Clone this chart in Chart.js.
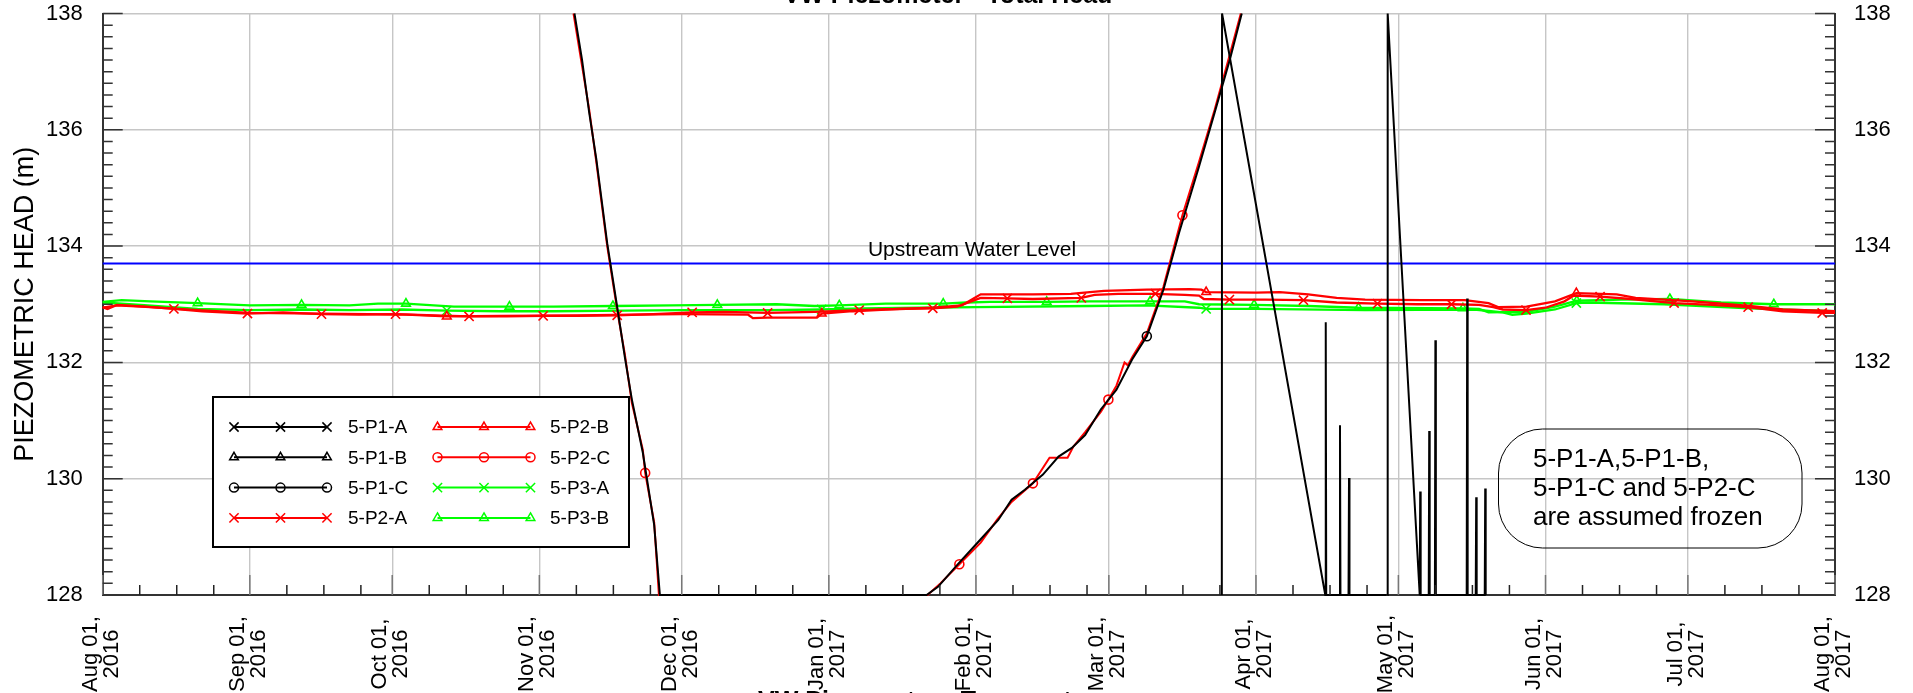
<!DOCTYPE html>
<html>
<head>
<meta charset="utf-8">
<title>VW Piezometer - Total Head</title>
<script src="https://cdn.jsdelivr.net/npm/chart.js@4.4.1/dist/chart.umd.min.js"></script>
<style>
  html, body { margin: 0; padding: 0; background: #fff; }
  #wrap { position: relative; width: 1913px; height: 693px; overflow: hidden; }
  canvas { display: block; }
</style>
</head>
<body>
<div id="wrap"><canvas id="chart" width="1913" height="693"></canvas></div>
<script>
/* VW piezometers 5-P1 / 5-P2 / 5-P3 — total head, Aug 2016 to Aug 2017 */

// x values are days counted from Aug 01, 2016
const MONTH_DAYS   = [0, 31, 61, 92, 122, 153, 184, 212, 243, 273, 304, 334, 365];
const MONTH_LABELS = ['Aug 01,', 'Sep 01,', 'Oct 01,', 'Nov 01,', 'Dec 01,', 'Jan 01,', 'Feb 01,',
                      'Mar 01,', 'Apr 01,', 'May 01,', 'Jun 01,', 'Jul 01,', 'Aug 01,'];
const YEAR_LABELS  = ['2016', '2016', '2016', '2016', '2016', '2017', '2017',
                      '2017', '2017', '2017', '2017', '2017', '2017'];

const HEAD_MIN = 128;
const HEAD_MAX = 138;
const UPSTREAM = [[0, 133.7], [365, 133.7]];

/* frozen sensors — values shown clipped at the 128 / 138 frame */
const P1A = [[235.8,128],[235.85,138],[257.6,128],[257.7,132.69],[257.8,128],[260.6,128],[260.7,130.92],
  [260.8,128],[262.5,128],[262.6,130.01],[262.7,128],[270.5,128]];
const P1A_MARKS = [];

const P1B = [[270.7,128],[270.75,138],[277.5,128],[277.6,129.78],[277.7,128],[279.4,128],[279.5,130.82],
  [279.6,128],[280.7,128],[280.8,132.38],[280.9,128],[287.4,128],[287.5,133.1],[287.6,128],[289.3,128],
  [289.4,129.68],[289.5,128],[291.2,128],[291.3,129.83],[291.4,128]];
const P1B_MARKS = [];

const P1C = [[99.4,138],[101,137.2],[102.5,136.3],[104,135.5],[106.3,134.05],[108.6,132.85],[110,132.1],
  [111.5,131.36],[113.8,130.45],[116.2,129.2],[117.4,128],[173.6,128],[176,128.14],[180.2,128.53],
  [184.9,128.95],[188.7,129.29],[191.5,129.64],[194.3,129.81],[198.1,130.07],[201.4,130.38],[204.2,130.53],
  [207,130.75],[210.3,131.19],[213.6,131.53],[216.9,132.05],[220,132.45],[223.5,133.25],[226.8,134.23],
  [231,135.37],[234.3,136.3],[237.5,137.21],[240,138]];
const P1C_MARKS = [220];

const P2C = [[99.2,138],[101,137.1],[102.5,136.35],[104,135.45],[106.3,134.0],[108.6,132.8],[110,132.15],
  [111.5,131.3],[113.8,130.5],[114.3,130.1],[116.2,129.25],[117.2,128],[173.8,128],[176.5,128.2],
  [180.5,128.53],[185,128.9],[188.5,129.3],[191.5,129.6],[196,129.92],[199.5,130.36],[203.3,130.36],
  [204.5,130.55],[207,130.8],[210.3,131.15],[211.9,131.36],[213.6,131.6],[215.3,132.0],[216,131.95],
  [217,132.1],[220,132.5],[223.5,133.3],[227.5,134.53],[231,135.45],[234.3,136.35],[237.5,137.3],[239.8,138]];
const P2C_MARKS = [114.3, 180.5, 196, 211.9, 227.5];

/* working sensors */
const P2A = [[0,132.95],[1,132.92],[3,132.99],[9,132.96],[15,132.92],[21,132.88],[30.5,132.84],[38,132.86],
  [46.1,132.83],[54,132.82],[61.7,132.83],[70,132.81],[77.2,132.79],[85,132.79],[92.8,132.80],[100,132.80],
  [108.4,132.81],[116,132.83],[124.2,132.86],[131,132.87],[140.1,132.85],[150,132.87],[159.4,132.90],
  [168,132.92],[174.9,132.93],[180,132.96],[183,133.05],[185,133.11],[190.6,133.10],[196,133.09],
  [206.2,133.11],[209,133.16],[214,133.18],[221.8,133.18],[228,133.16],[231,133.15],[232,133.09],
  [237.4,133.08],[245,133.08],[253,133.07],[260,133.03],[268.6,133.01],[277,133.00],[284.2,133.00],
  [290,132.99],[293,132.95],[295,132.91],[299.9,132.90],[304,132.94],[308,133.05],[310,133.15],
  [315.5,133.13],[322,133.09],[331.1,133.02],[339,132.99],[346.7,132.95],[354,132.88],[362.3,132.85],[365,132.85]];
const P2A_MARKS = [15, 30.5, 46.1, 61.7, 77.2, 92.8, 108.4, 124.2, 140.1, 159.4, 174.9, 190.6, 206.2,
  221.8, 237.4, 253, 268.6, 284.2, 299.9, 315.5, 331.1, 346.7, 362.3];

const P2B = [[0,132.94],[3,132.98],[10,132.95],[20,132.90],[31,132.85],[46,132.84],[56,132.83],[64,132.82],
  [72.5,132.79],[84,132.80],[100,132.81],[112,132.82],[122,132.83],[136,132.82],[137,132.76],[140,132.77],
  [145,132.77],[150.5,132.77],[151.5,132.84],[158,132.88],[165,132.91],[175,132.94],[181,132.98],
  [183.5,133.10],[185,133.17],[196,133.17],[204,133.18],[208,133.21],[211,133.23],[220,133.25],[229,133.26],
  [231.5,133.25],[232.5,133.21],[243,133.20],[248,133.21],[254,133.17],[260,133.11],[266,133.08],
  [278,133.07],[287,133.07],[292,133.02],[294,132.95],[300,132.96],[306,133.05],[310.5,133.19],
  [319,133.17],[323,133.11],[335,133.05],[347,132.97],[354,132.91],[365,132.88]];
const P2B_MARKS = [72.5, 151.5, 232.5, 310.5];

const P3A = [[0,133.03],[8,132.99],[20,132.92],[31,132.90],[42,132.91],[52,132.90],[63,132.91],[72.5,132.89],
  [84,132.88],[95,132.88],[110,132.89],[122,132.90],[140,132.90],[151.5,132.91],[160,132.93],[172,132.94],
  [184,132.95],[208,132.97],[220,132.98],[231,132.94],[232.5,132.92],[243,132.92],[266,132.90],[289,132.91],
  [295,132.86],[297,132.82],[300,132.84],[306,132.91],[310.5,133.02],[313,133.03],[329,133.00],[347,132.93],
  [365,132.88]];
const P3A_MARKS = [72.5, 151.5, 232.5, 310.5];

const P3B = [[0,133.04],[4,133.07],[10,133.05],[20,133.02],[31,132.98],[41.9,132.99],[52,132.98],[58,133.01],
  [63.9,133.01],[74,132.96],[85.7,132.96],[95,132.96],[107.5,132.97],[120,132.98],[129.5,132.99],[142,133.00],
  [150,132.97],[155.2,132.98],[165,133.01],[177.1,133.01],[182,133.03],[187,133.04],[198.9,133.04],
  [208,133.05],[220.7,133.05],[228,133.05],[231,133.00],[242.6,132.99],[254,132.97],[264.6,132.94],
  [286.6,132.93],[290,132.92],[292,132.86],[300,132.87],[306,132.96],[310.6,133.06],[320,133.08],
  [330.2,133.09],[341,133.03],[352.1,133.00],[365,133.00]];
const P3B_MARKS = [20, 41.9, 63.9, 85.7, 107.5, 129.5, 155.2, 177.1, 198.9, 220.7, 242.6, 264.6, 286.6,
  310.6, 330.2, 352.1];

const NOTE_LINES = ['5-P1-A,5-P1-B,', '5-P1-C and 5-P2-C', 'are assumed frozen'];

/* ── styling ──────────────────────────────────────────────────── */

const FONT = "'Liberation Sans', Arial, Helvetica, sans-serif";
const BLACK = '#000000', RED = '#ff0000', GREEN = '#00ff00', BLUE = '#0000ff';
const MARK_R = { crossRot: 6.5, triangle: 5, circle: 4.5 };

// drawn top-most first (Chart.js paints dataset 0 last)
const SERIES = [
  { label: '5-P1-A', color: BLACK, style: 'crossRot', pts: P1A, marks: P1A_MARKS, width: 2 },
  { label: '5-P1-B', color: BLACK, style: 'triangle', pts: P1B, marks: P1B_MARKS, width: 2 },
  { label: '5-P1-C', color: BLACK, style: 'circle',   pts: P1C, marks: P1C_MARKS, width: 2 },
  { label: '5-P2-C', color: RED,   style: 'circle',   pts: P2C, marks: P2C_MARKS, width: 2 },
  { label: '5-P2-A', color: RED,   style: 'crossRot', pts: P2A, marks: P2A_MARKS, width: 2.3 },
  { label: '5-P2-B', color: RED,   style: 'triangle', pts: P2B, marks: P2B_MARKS, width: 2.3 },
  { label: '5-P3-A', color: GREEN, style: 'crossRot', pts: P3A, marks: P3A_MARKS, width: 2.3 },
  { label: '5-P3-B', color: GREEN, style: 'triangle', pts: P3B, marks: P3B_MARKS, width: 2.3 },
];

// legend order as printed in the box (two columns of four)
const LEGEND_ORDER = ['5-P1-A', '5-P1-B', '5-P1-C', '5-P2-A', '5-P2-B', '5-P2-C', '5-P3-A', '5-P3-B'];

function toPoints(pairs) {
  return pairs.map(p => ({ x: p[0], y: p[1] }));
}

/* ── helpers ──────────────────────────────────────────────────── */

function drawMarker(ctx, style, x, y, r) {
  ctx.beginPath();
  if (style === 'crossRot') {
    const d = r * Math.SQRT1_2;
    ctx.moveTo(x - d, y - d); ctx.lineTo(x + d, y + d);
    ctx.moveTo(x - d, y + d); ctx.lineTo(x + d, y - d);
  } else if (style === 'triangle') {
    for (let i = 0; i < 3; i++) {
      const a = i * 2 * Math.PI / 3;
      const px = x + Math.sin(a) * r, py = y - Math.cos(a) * r;
      if (i === 0) ctx.moveTo(px, py); else ctx.lineTo(px, py);
    }
    ctx.closePath();
  } else {
    ctx.arc(x, y, r, 0, Math.PI * 2);
  }
  ctx.stroke();
}

function roundedBox(ctx, x0, y0, x1, y1, r) {
  ctx.beginPath();
  ctx.moveTo(x0 + r, y0);
  ctx.lineTo(x1 - r, y0);
  ctx.arcTo(x1, y0, x1, y0 + r, r);
  ctx.lineTo(x1, y1 - r);
  ctx.arcTo(x1, y1, x1 - r, y1, r);
  ctx.lineTo(x0 + r, y1);
  ctx.arcTo(x0, y1, x0, y1 - r, r);
  ctx.lineTo(x0, y0 + r);
  ctx.arcTo(x0, y0, x0 + r, y0, r);
  ctx.closePath();
  ctx.stroke();
}

/* ── decorations: inner ticks, rotated dates, titles, legend, note ── */

const decor = {
  id: 'decor',
  afterDraw(chart) {
    const ctx = chart.ctx;
    const a = chart.chartArea;
    const xs = chart.scales.x, ys = chart.scales.y;
    ctx.save();

    // inward ticks on the date axis
    ctx.lineWidth = 1.5;
    MONTH_DAYS.forEach((d, i) => {
      const x = xs.getPixelForValue(d);
      ctx.strokeStyle = '#777';
      ctx.beginPath(); ctx.moveTo(x, a.bottom); ctx.lineTo(x, a.bottom - 20); ctx.stroke();
      if (i < MONTH_DAYS.length - 1) {
        ctx.strokeStyle = '#222';
        for (let k = 1; k <= 3; k++) {
          const xm = xs.getPixelForValue(d + k * 7.8);
          ctx.beginPath(); ctx.moveTo(xm, a.bottom); ctx.lineTo(xm, a.bottom - 10); ctx.stroke();
        }
      }
    });

    // inward ticks on both head axes
    ctx.strokeStyle = '#333';
    for (let i = 0; i <= 50; i++) {
      const y = ys.getPixelForValue(HEAD_MIN + i * 0.2);
      const len = i % 10 === 0 ? 20 : 10;
      ctx.beginPath();
      ctx.moveTo(a.left, y); ctx.lineTo(a.left + len, y);
      ctx.moveTo(a.right, y); ctx.lineTo(a.right - len, y);
      ctx.stroke();
    }

    // rotated month labels, two centred lines each
    ctx.fillStyle = '#000';
    ctx.font = `22px ${FONT}`;
    ctx.textAlign = 'center';
    ctx.textBaseline = 'middle';
    MONTH_DAYS.forEach((d, i) => {
      ctx.save();
      ctx.translate(xs.getPixelForValue(d), 654);
      ctx.rotate(-Math.PI / 2);
      ctx.fillText(MONTH_LABELS[i], 0, -12);
      ctx.fillText(YEAR_LABELS[i], 0, 9);
      ctx.restore();
    });

    // vertical axis title
    ctx.save();
    ctx.translate(26, (a.top + a.bottom) / 2);
    ctx.rotate(-Math.PI / 2);
    ctx.font = `27px ${FONT}`;
    ctx.fillText('PIEZOMETRIC HEAD (m)', 0, 0);
    ctx.restore();

    // titles, cut by the frame edges as in the source sheet
    ctx.font = `bold 25px ${FONT}`;
    ctx.textBaseline = 'alphabetic';
    ctx.fillText('VW Piezometer - Total Head', 948, 3);
    ctx.textAlign = 'left';
    ctx.fillText('VW Piezometer - Temperature', 758, 709);

    // upstream water level label
    ctx.textAlign = 'center';
    ctx.font = `21px ${FONT}`;
    ctx.fillText('Upstream Water Level', 972, ys.getPixelForValue(UPSTREAM[0][1]) - 8);

    // legend box
    ctx.fillStyle = '#fff';
    ctx.fillRect(213, 397, 416, 150);
    ctx.strokeStyle = '#000';
    ctx.lineWidth = 2;
    ctx.strokeRect(213, 397, 416, 150);
    ctx.font = `19px ${FONT}`;
    ctx.textAlign = 'left';
    ctx.textBaseline = 'middle';
    LEGEND_ORDER.forEach((name, i) => {
      const s = SERIES.find(o => o.label === name);
      const col = Math.floor(i / 4), row = i % 4;
      const x0 = col ? 437.5 : 234, x1 = x0 + 93;
      const y = 427 + row * 30.3;
      ctx.strokeStyle = s.color;
      ctx.lineWidth = 2;
      ctx.beginPath(); ctx.moveTo(x0, y); ctx.lineTo(x1, y); ctx.stroke();
      ctx.lineWidth = 1.5;
      [x0, (x0 + x1) / 2, x1].forEach(mx => drawMarker(ctx, s.style, mx, y, MARK_R[s.style]));
      ctx.fillStyle = '#000';
      ctx.fillText(name, col ? 550 : 348, y + 1);
    });

    // frozen-sensor note
    ctx.strokeStyle = '#000';
    ctx.lineWidth = 1;
    roundedBox(ctx, 1498.5, 429, 1802, 548, 44);
    ctx.font = `26px ${FONT}`;
    NOTE_LINES.forEach((t, i) => ctx.fillText(t, 1533, 460 + i * 29));

    ctx.restore();
  },
};

/* ── chart ────────────────────────────────────────────────────── */

const datasets = SERIES.map(s => ({
  label: s.label,
  data: toPoints(s.pts),
  borderColor: s.color,
  borderWidth: s.width,
  backgroundColor: 'rgba(0,0,0,0)',
  pointStyle: s.style,
  pointBorderColor: s.color,
  pointBackgroundColor: 'rgba(0,0,0,0)',
  pointBorderWidth: 1.6,
  pointRadius: ctx => (ctx.raw && s.marks.includes(ctx.raw.x) ? MARK_R[s.style] : 0),
  pointHoverRadius: 0,
  tension: 0,
  spanGaps: false,
  clip: 3,
}));

datasets.push({
  label: 'Upstream Water Level',
  data: toPoints(UPSTREAM),
  borderColor: BLUE,
  borderWidth: 2,
  pointRadius: 0,
  clip: 3,
});

const gridStyle = { color: '#c6c6c6', lineWidth: 1.4, drawTicks: false };
const frame = { color: '#333', width: 2 };

// keep the plot frame where the sheet has it: no extra room for half-labels
function noPad(s) {
  s.paddingTop = 0; s.paddingBottom = 0; s.paddingLeft = 0; s.paddingRight = 0;
}

Chart.defaults.font.family = FONT;
Chart.defaults.color = '#000';

new Chart(document.getElementById('chart'), {
  type: 'line',
  data: { datasets },
  options: {
    responsive: false,
    animation: false,
    events: [],
    layout: { padding: { top: 13.5, left: 0, right: 0, bottom: 0 } },
    plugins: {
      legend: { display: false },
      title: { display: false },
      tooltip: { enabled: false },
    },
    scales: {
      x: {
        type: 'linear',
        min: MONTH_DAYS[0],
        max: MONTH_DAYS[MONTH_DAYS.length - 1],
        afterBuildTicks: s => { s.ticks = MONTH_DAYS.map(v => ({ value: v })); },
        afterFit: s => { s.height = 98; noPad(s); },
        ticks: { display: false },
        grid: gridStyle,
        border: frame,
      },
      y: {
        min: HEAD_MIN,
        max: HEAD_MAX,
        afterFit: s => { s.width = 102.7; noPad(s); },
        ticks: { stepSize: 2, padding: 20, font: { size: 22 }, color: '#000' },
        grid: gridStyle,
        border: frame,
      },
      y2: {
        position: 'right',
        min: HEAD_MIN,
        max: HEAD_MAX,
        afterFit: s => { s.width = 78; noPad(s); },
        ticks: { stepSize: 2, padding: 19, font: { size: 22 }, color: '#000' },
        grid: { drawOnChartArea: false, drawTicks: false },
        border: frame,
      },
    },
  },
  plugins: [decor],
});
</script>
</body>
</html>
